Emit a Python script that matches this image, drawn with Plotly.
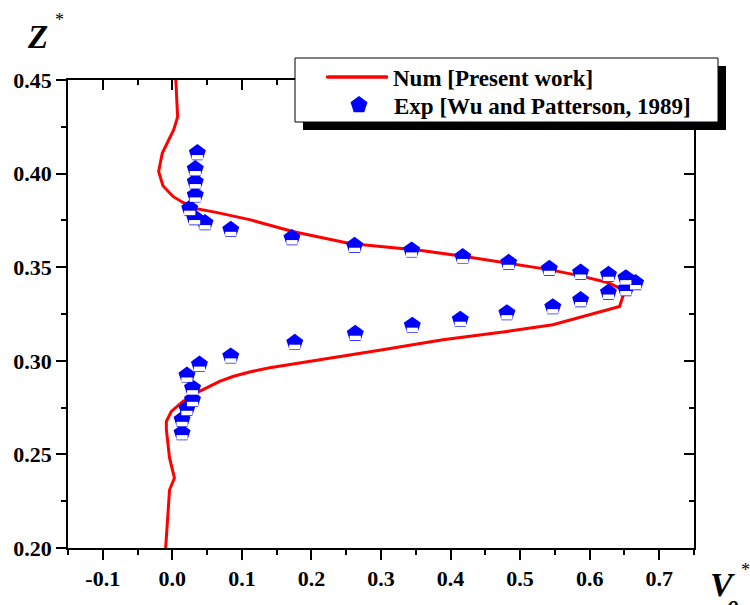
import plotly.graph_objects as go

# ---------------- data ----------------
num_v = [0.005, 0.0076, 0.002, -0.0144, -0.0197, -0.0135, 0.0009, 0.0152, 0.0345, 0.063,
         0.111, 0.173, 0.255, 0.3553, 0.418, 0.483, 0.542, 0.585, 0.627, 0.645, 0.6485,
         0.643, 0.609, 0.585, 0.547, 0.481, 0.389, 0.30, 0.183, 0.14, 0.111, 0.087, 0.068,
         0.039, 0.0152, -0.0014, -0.0086, -0.0086, -0.004, 0.003, -0.004, -0.0096]
num_z = [0.45, 0.4303, 0.4235, 0.411, 0.4012, 0.3935, 0.3878, 0.3846, 0.3813, 0.3793,
         0.3754, 0.3691, 0.3627, 0.359, 0.3558, 0.3522, 0.3487, 0.3455, 0.3417, 0.3384, 0.3353,
         0.329, 0.3255, 0.3229, 0.3193, 0.3157, 0.3113, 0.3058, 0.2988, 0.2963, 0.2940, 0.2916,
         0.2890, 0.2837, 0.2783, 0.273, 0.2676, 0.2632, 0.2481, 0.2374, 0.231, 0.20]

exp_v = [0.036, 0.033, 0.033, 0.033, 0.025, 0.032, 0.047, 0.084, 0.172, 0.262, 0.344,
         0.4175, 0.4835, 0.542, 0.587, 0.627, 0.652, 0.666, 0.652, 0.627, 0.587, 0.547,
         0.481, 0.414, 0.345, 0.263, 0.176, 0.084, 0.039, 0.021, 0.029, 0.029, 0.021,
         0.014, 0.014]
exp_z = [0.411, 0.4025, 0.3955, 0.3884, 0.3813, 0.3763, 0.3736, 0.370, 0.3656, 0.3615, 0.359,
         0.3555, 0.3524, 0.3492, 0.3472, 0.346, 0.3442, 0.3416, 0.3384, 0.3365, 0.3325, 0.3287,
         0.3255, 0.322, 0.3188, 0.3145, 0.3097, 0.3024, 0.298, 0.2922, 0.2854, 0.2792, 0.2744,
         0.2685, 0.2614]

x_ticks = [-0.1, 0.0, 0.1, 0.2, 0.3, 0.4, 0.5, 0.6, 0.7]
x_tick_labels = ["-0.1", "0.0", "0.1", "0.2", "0.3", "0.4", "0.5", "0.6", "0.7"]
y_ticks = [0.20, 0.25, 0.30, 0.35, 0.40, 0.45]
y_tick_labels = ["0.20", "0.25", "0.30", "0.35", "0.40", "0.45"]

series_names = ["Num [Present work]", "Exp [Wu and Patterson, 1989]"]

# ---------------- layout geometry ----------------
W, H = 750, 605
ML, MR, MT, MB = 68, 56, 80, 57
PW, PH = W - ML - MR, H - MT - MB
XR = [-0.15, 0.75]
YR = [0.20, 0.45]

def px(xp):
    return (xp - ML) / PW

def py(yp):
    return (H - MB - yp) / PH

def bold(s):
    return "<b>" + s + "</b>"

FONT = "Liberation Serif"
RED = "#ff0000"
BLUE = "#0000ff"

# white lower part of the half-filled pentagon (shifted a few pixels down)
dz = 4.3 * (YR[1] - YR[0]) / PH
exp_z_low = [z - dz for z in exp_z]

fig = go.Figure()
fig.add_trace(go.Scatter(x=num_v, y=num_z, mode="lines", name=bold(series_names[0]),
                         legend="legend",
                         line=dict(color=RED, width=3), hoverinfo="skip"))
fig.add_trace(go.Scatter(x=exp_v, y=exp_z, mode="markers", name=bold(series_names[1]),
                         legend="legend2",
                         marker=dict(symbol="pentagon", size=16, color=BLUE,
                                     line=dict(color=BLUE, width=1.5))))
fig.add_trace(go.Scatter(x=exp_v, y=exp_z_low, mode="markers", showlegend=False,
                         hoverinfo="skip",
                         marker=dict(symbol="line-ew", size=8, color="white",
                                     line=dict(color="white", width=4.5))))
# invisible trace to anchor mirrored top/right axes
fig.add_trace(go.Scatter(x=num_v, y=num_z, mode="lines", xaxis="x2", yaxis="y2",
                         showlegend=False, hoverinfo="skip", opacity=0,
                         line=dict(width=0)))

tickfont = dict(family=FONT, size=22, color="black")

common = dict(showgrid=False, zeroline=False, showline=True, linecolor="black",
              linewidth=1.5, tickwidth=1.5, tickcolor="black", ticklen=10)

legfont = dict(family=FONT, size=23, color="black")

fig.update_layout(
    width=W, height=H,
    margin=dict(l=ML, r=MR, t=MT, b=MB, pad=0),
    paper_bgcolor="white", plot_bgcolor="white",
    font=dict(family=FONT, color="black"),
    xaxis=dict(range=XR, tickmode="array", tickvals=x_ticks,
               ticktext=[bold(t) for t in x_tick_labels],
               ticks="outside", tickfont=tickfont,
               minor=dict(tickmode="linear", tick0=0, dtick=0.05, ticks="outside",
                          ticklen=5, tickwidth=1.5, tickcolor="black"),
               **common),
    yaxis=dict(range=YR, tickmode="array", tickvals=y_ticks,
               ticktext=[bold(t) for t in y_tick_labels],
               ticks="outside", tickfont=tickfont,
               minor=dict(tickmode="linear", tick0=0.2, dtick=0.025, ticks="outside",
                          ticklen=5, tickwidth=1.5, tickcolor="black"),
               **common),
    xaxis2=dict(range=XR, overlaying="x", side="top", anchor="y", tickmode="array",
                tickvals=x_ticks, ticks="inside", showticklabels=False,
                minor=dict(tickmode="linear", tick0=0, dtick=0.05, ticks="inside",
                           ticklen=5, tickwidth=1.5, tickcolor="black"),
                **common),
    yaxis2=dict(range=YR, overlaying="y", side="right", anchor="x", tickmode="array",
                tickvals=y_ticks, ticks="inside", showticklabels=False,
                minor=dict(tickmode="linear", tick0=0.2, dtick=0.025, ticks="inside",
                           ticklen=5, tickwidth=1.5, tickcolor="black"),
                **common),
    showlegend=True,
    legend=dict(x=px(323), y=py(77), xanchor="left", yanchor="middle",
                bgcolor="rgba(0,0,0,0)", borderwidth=0, itemwidth=60, font=legfont),
    legend2=dict(x=px(324), y=py(105), xanchor="left", yanchor="middle",
                 bgcolor="rgba(0,0,0,0)", borderwidth=0, itemwidth=60, font=legfont),
    shapes=[
        dict(type="rect", xref="paper", yref="paper", layer="above",
             x0=px(303), x1=px(726), y0=py(130), y1=py(66),
             fillcolor="black", line=dict(width=0)),
        dict(type="rect", xref="paper", yref="paper", layer="above",
             x0=px(295), x1=px(718), y0=py(122), y1=py(58),
             fillcolor="white", line=dict(color="black", width=1)),
        dict(type="line", xref="paper", yref="paper", layer="above",
             x0=px(326), x1=px(387), y0=py(77), y1=py(77),
             line=dict(color=RED, width=3)),
    ],
    annotations=[
        dict(text="<b><i>Z</i></b>", xref="paper", yref="paper", x=px(37), y=py(37),
             xanchor="center", yanchor="middle", showarrow=False,
             font=dict(family=FONT, size=33, color="black")),
        dict(text="*", xref="paper", yref="paper", x=px(59), y=py(20),
             xanchor="center", yanchor="middle", showarrow=False,
             font=dict(family=FONT, size=18, color="black")),
        dict(text="<b><i>V</i></b>", xref="paper", yref="paper", x=px(722), y=py(584),
             xanchor="center", yanchor="middle", showarrow=False,
             font=dict(family=FONT, size=34, color="black")),
        dict(text="<b><i>θ</i></b>", xref="paper", yref="paper", x=px(732), y=py(609),
             xanchor="center", yanchor="middle", showarrow=False,
             font=dict(family=FONT, size=24, color="black")),
        dict(text="*", xref="paper", yref="paper", x=px(745), y=py(570),
             xanchor="center", yanchor="middle", showarrow=False,
             font=dict(family=FONT, size=18, color="black")),
    ],
)

fig.write_html("out.html")
